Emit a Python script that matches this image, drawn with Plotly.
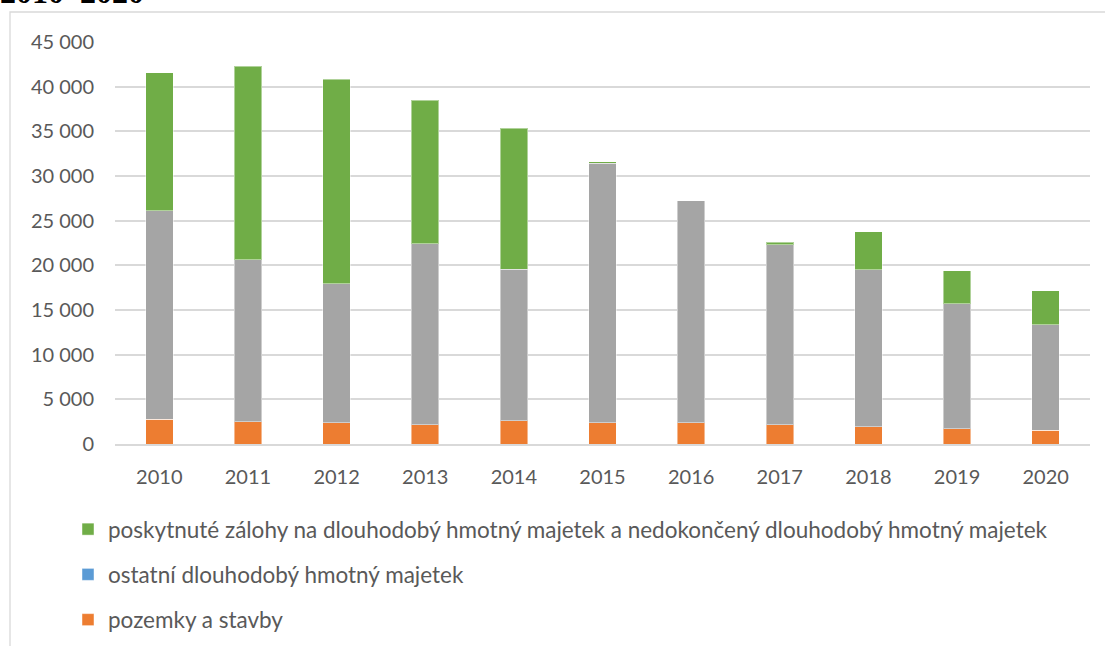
import plotly.graph_objects as go

years = ["2010", "2011", "2012", "2013", "2014", "2015", "2016", "2017", "2018", "2019", "2020"]
pozemky_a_stavby = [2760, 2500, 2390, 2160, 2610, 2390, 2400, 2160, 1940, 1710, 1560]
ostatni_dhm = [0, 0, 0, 0, 0, 0, 0, 0, 0, 0, 0]
hmotne_movite = [23330, 18100, 15530, 20240, 16950, 29040, 24810, 20120, 17580, 13970, 11770]
zalohy_a_nedokonceny = [15460, 21700, 22920, 16090, 15790, 150, 0, 300, 4220, 3730, 3800]

names = {
    "orange": "pozemky a stavby",
    "blue": "ostatní dlouhodobý hmotný majetek",
    "gray": "hmotné movité věci",
    "green": "poskytnuté zálohy na dlouhodobý hmotný majetek a nedokončený dlouhodobý hmotný majetek",
}

W, H = 1105, 646
L, R, T, B = 115, 15, 42, 202
pw, ph = W - L - R, H - T - B

def px_x(p):
    return (p - L) / pw

def px_y(p):
    return 1 - (p - T) / ph

font = "Lato"
txt_col = "#595959"
grid_col = "#d9d9d9"
edge = dict(color="rgba(255,255,255,0.45)", width=1)

fig = go.Figure()
fig.add_trace(go.Bar(x=years, y=pozemky_a_stavby, name=names["orange"], marker=dict(color="#ED7D31", line=edge),
                     legendgroup="a", legendrank=3))
fig.add_trace(go.Bar(x=years, y=ostatni_dhm, name=names["blue"], marker=dict(color="#5B9BD5", line=edge),
                     legendgroup="b", legendrank=2))
fig.add_trace(go.Bar(x=years, y=hmotne_movite, name=names["gray"], marker=dict(color="#A5A5A5", line=edge),
                     showlegend=False, legendgroup="c", legendrank=4))
fig.add_trace(go.Bar(x=years, y=zalohy_a_nedokonceny, name=names["green"], marker=dict(color="#70AD47", line=edge),
                     legendgroup="d", legendrank=1))

fig.update_layout(
    width=W, height=H,
    margin=dict(l=L, r=R, t=T, b=B, autoexpand=False),
    barmode="stack",
    bargap=0.69,
    separators=", ",
    plot_bgcolor="white", paper_bgcolor="white",
    font=dict(family=font, size=20, color=txt_col),
    showlegend=True,
    legend=dict(
        orientation="v", traceorder="grouped", tracegroupgap=13,
        x=px_x(68), xanchor="left", y=px_y(508), yanchor="top",
        font=dict(family=font, size=22.5, color=txt_col),
        bgcolor="rgba(0,0,0,0)",
    ),
    xaxis=dict(
        showgrid=False, showline=True, linecolor=grid_col, linewidth=1.5,
        ticks="", ticklabelstandoff=14, tickfont=dict(family=font, size=20, color=txt_col),
    ),
    yaxis=dict(
        range=[0, 45000], tickvals=list(range(0, 45001, 5000)), tickformat=",d",
        showgrid=True, gridcolor=grid_col, gridwidth=1.5, zeroline=False, showline=False,
        ticks="", ticklabelstandoff=20, tickfont=dict(family=font, size=20, color=txt_col),
    ),
    shapes=[dict(
        type="rect", xref="paper", yref="paper",
        x0=px_x(10), x1=px_x(1130), y0=px_y(700), y1=px_y(12),
        line=dict(color=grid_col, width=1.3), fillcolor="rgba(0,0,0,0)", layer="below",
    )],
    annotations=[dict(
        text="<b>2010–2020</b>", xref="paper", yref="paper",
        x=px_x(-2), xanchor="left", y=px_y(12), yanchor="bottom", showarrow=False,
        font=dict(family="Liberation Serif", size=32, color="black"),
    )],
)

fig.write_html("out.html", config={"displayModeBar": False},
               post_script="document.body.style.margin='0';")
